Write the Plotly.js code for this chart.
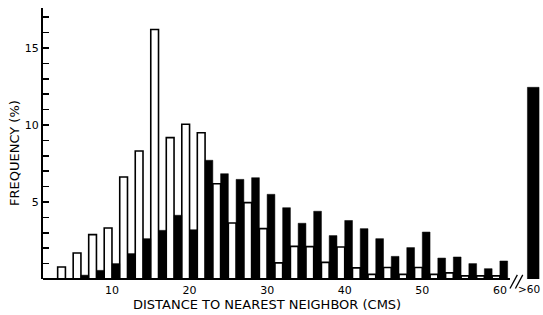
<!DOCTYPE html>
<html>
<head>
<meta charset="utf-8">
<script src="https://cdn.plot.ly/plotly-3.0.1.min.js"></script>
<style>
  html, body { margin: 0; padding: 0; background: #fff; }
  #chart { width: 543px; height: 315px; }
</style>
</head>
<body>
<div id="chart"></div>
<script>
// Upper bound of each 2-cm distance bin (cm)
const distance = [4, 6, 8, 10, 12, 14, 16, 18, 20, 22, 24, 26, 28, 30, 32,
                  34, 36, 38, 40, 42, 44, 46, 48, 50, 52, 54, 56, 58, 60];
// Open (white) bars, frequency %
const openFreq = [0.78, 1.69, 2.88, 3.31, 6.62, 8.31, 16.2, 9.18, 10.05, 9.5,
                  6.19, 3.64, 4.96, 3.27, 1.05, 2.12, 2.1, 1.08, 2.08, 0.72,
                  0.3, 0.75, 0.3, 0.75, 0.3, 0.4, 0.2, 0.2, 0.2];
// Filled (black) bars, frequency %
const filledFreq = [0, 0.25, 0.56, 1.0, 1.65, 2.62, 3.16, 4.14, 3.2, 7.71,
                    6.84, 6.47, 6.58, 5.5, 4.63, 3.62, 4.4, 2.82, 3.8, 3.27,
                    2.62, 1.47, 2.04, 3.05, 1.36, 1.43, 1.0, 0.67, 1.17];
// Beyond 60 cm
const overflowLabel = '>60';
const overflowFreq = 12.45;

const xTickVals = [10, 20, 30, 40, 50, 60];
const yTickVals = [0,1,2,3,4,5,6,7,8,9,10,11,12,13,14,15,16,17];
const yLabelled = [5, 10, 15];

// layout constants
const XR = [1.11, 65.3];
const YR = [0, 17.6];
const overflowPos = 64.3;
const FONT = 'DejaVu Sans, Liberation Sans, sans-serif';
const px = x => (x - XR[0]) / (XR[1] - XR[0]);

const traces = [
  {
    type: 'bar', x: distance, y: openFreq, width: 1, offset: -1,
    marker: { color: '#ffffff', line: { color: '#000000', width: 1.6 } },
    hoverinfo: 'x+y'
  },
  {
    type: 'bar', x: distance, y: filledFreq, width: 1, offset: 0,
    marker: { color: '#000000', line: { color: '#000000', width: 0.5 } },
    hoverinfo: 'x+y'
  },
  {
    type: 'bar', x: [overflowPos], y: [overflowFreq], width: 1.5,
    marker: { color: '#000000', line: { color: '#000000', width: 0.5 } },
    hovertext: [overflowLabel], hoverinfo: 'text+y'
  }
];

const layout = {
  width: 543, height: 315,
  margin: { l: 43, r: 2, t: 8, b: 36 },
  paper_bgcolor: '#ffffff', plot_bgcolor: '#ffffff',
  showlegend: false,
  barmode: 'overlay',
  font: { family: FONT, color: '#000000', size: 11 },
  xaxis: {
    range: XR, showgrid: false, zeroline: false, showline: false,
    tickvals: xTickVals,
    ticktext: xTickVals.map(String),
    ticks: '', ticklabelstandoff: 3,
    tickfont: { family: FONT, size: 11, color: '#000' }
  },
  yaxis: {
    range: YR, showgrid: false, zeroline: false,
    showline: true, linewidth: 2, linecolor: '#000',
    ticks: 'inside', ticklen: 6, tickwidth: 1.5, tickcolor: '#000',
    tickvals: yTickVals,
    ticktext: yTickVals.map(v => yLabelled.includes(v) ? String(v) : ''),
    tickfont: { family: FONT, size: 11, color: '#000' }
  },
  shapes: [
    { type: 'line', xref: 'paper', yref: 'paper', x0: 0, x1: px(61.3), y0: 0, y1: 0,
      line: { color: '#000', width: 2 } },
    { type: 'line', xref: 'paper', yref: 'paper', x0: px(61.3), x1: px(62.25), y0: -0.035, y1: 0.015,
      line: { color: '#000', width: 1.3 } },
    { type: 'line', xref: 'paper', yref: 'paper', x0: px(62.0), x1: px(62.95), y0: -0.035, y1: 0.015,
      line: { color: '#000', width: 1.3 } }
  ],
  annotations: [
    { text: overflowLabel, xref: 'paper', yref: 'paper',
      x: 1.002, y: -0.0385, xanchor: 'right', yanchor: 'middle', showarrow: false,
      font: { family: FONT, size: 10.5, color: '#000' } },
    { text: 'DISTANCE TO NEAREST NEIGHBOR (CMS)', xref: 'paper', yref: 'paper',
      x: 0.4498, y: -0.0945, xanchor: 'center', yanchor: 'middle', showarrow: false,
      font: { family: FONT, size: 13, color: '#000' } },
    { text: 'FREQUENCY (%)', xref: 'paper', yref: 'paper', textangle: -90,
      x: -0.0562, y: 0.465, xanchor: 'center', yanchor: 'middle', showarrow: false,
      font: { family: FONT, size: 13, color: '#000' } }
  ]
};

Plotly.newPlot('chart', traces, layout, { displayModeBar: false, staticPlot: true });
</script>
</body>
</html>
